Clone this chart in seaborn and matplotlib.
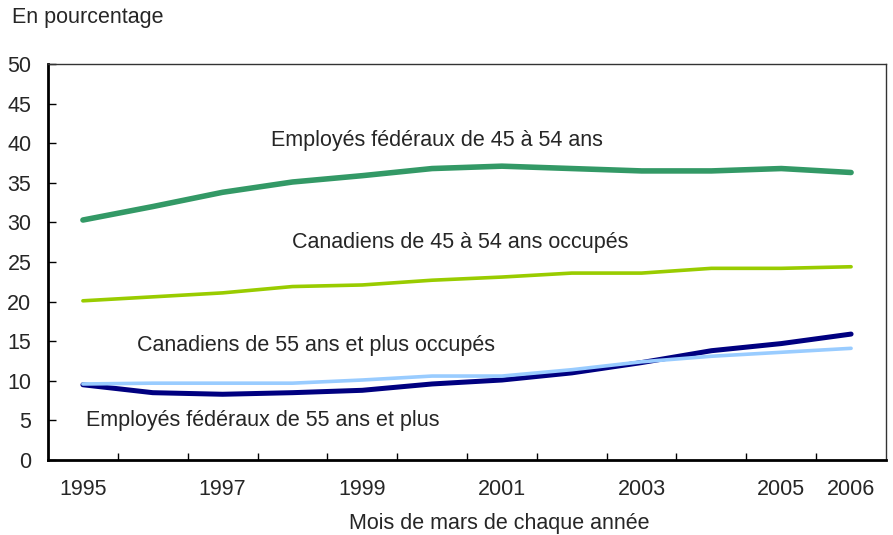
import matplotlib
matplotlib.use("Agg")
import matplotlib.pyplot as plt
import seaborn as sns
import pandas as pd
from matplotlib.ticker import FixedLocator, FixedFormatter

years = [1995, 1996, 1997, 1998, 1999, 2000, 2001, 2002, 2003, 2004, 2005, 2006]
fed_45_54 = [30.3, 32.0, 33.8, 35.1, 35.9, 36.8, 37.1, 36.8, 36.5, 36.5, 36.8, 36.3]
can_45_54 = [20.1, 20.6, 21.1, 21.9, 22.1, 22.7, 23.1, 23.6, 23.6, 24.2, 24.2, 24.4]
can_55 = [9.6, 9.7, 9.7, 9.7, 10.1, 10.6, 10.6, 11.4, 12.4, 13.1, 13.6, 14.1]
fed_55 = [9.5, 8.5, 8.3, 8.5, 8.8, 9.6, 10.1, 11.0, 12.3, 13.8, 14.7, 15.9]
tick_labels = ["1995", "", "1997", "", "1999", "", "2001", "", "2003", "", "2005", "2006"]

sns.set_theme(style="white")
plt.rcParams["font.family"] = ["Liberation Sans", "DejaVu Sans"]

fig = plt.figure(figsize=(8.93, 5.35), dpi=100)
ax = fig.add_axes([48 / 893, 75 / 535, (886 - 48) / 893, (460 - 64) / 535])

idx = list(range(len(years)))
df = pd.DataFrame({"i": idx, "fed45": fed_45_54, "can45": can_45_54,
                   "can55": can_55, "fed55": fed_55})

sns.lineplot(data=df, x="i", y="can45", ax=ax, color="#99CC00", linewidth=2.6,
             solid_capstyle="round")
sns.lineplot(data=df, x="i", y="fed45", ax=ax, color="#339966", linewidth=4.0,
             solid_capstyle="round")
sns.lineplot(data=df, x="i", y="fed55", ax=ax, color="#000080", linewidth=3.6,
             solid_capstyle="round")
sns.lineplot(data=df, x="i", y="can55", ax=ax, color="#99CCFF", linewidth=2.6,
             solid_capstyle="round")

ax.set_xlim(-0.5, len(years) - 0.5)
ax.set_ylim(0, 50)
ax.set_yticks(range(0, 51, 5))
ax.set_xlabel("")
ax.set_ylabel("")

fs = 15.5
ax.xaxis.set_major_locator(FixedLocator(idx))
ax.xaxis.set_major_formatter(FixedFormatter(tick_labels))
ax.xaxis.set_minor_locator(FixedLocator([i + 0.5 for i in idx[:-1]]))
ax.tick_params(axis="x", which="major", length=0, pad=14, labelsize=fs)
ax.tick_params(axis="x", which="minor", direction="in", length=5, width=1, color="black", bottom=True)
ax.tick_params(axis="y", which="major", direction="in", length=6, width=1, color="black",
               left=True, pad=12, labelsize=fs)

for s in ["left", "bottom"]:
    ax.spines[s].set_color("black")
    ax.spines[s].set_linewidth(2)
for s in ["top", "right"]:
    ax.spines[s].set_color("#333333")
    ax.spines[s].set_linewidth(1)

ax.text(2.69, 40.4, "Employés fédéraux de 45 à 54 ans", fontsize=fs, va="center", ha="left")
ax.text(2.99, 27.4, "Canadiens de 45 à 54 ans occupés", fontsize=fs, va="center", ha="left")
ax.text(0.77, 14.5, "Canadiens de 55 ans et plus occupés", fontsize=fs, va="center", ha="left")
ax.text(0.04, 5.05, "Employés fédéraux de 55 ans et plus", fontsize=fs, va="center", ha="left")

fig.text(12 / 893, 1 - 18 / 535, "En pourcentage", fontsize=fs, va="center", ha="left")
fig.text(499 / 893, 1 - 523 / 535, "Mois de mars de chaque année", fontsize=fs,
         va="center", ha="center")

fig.savefig("out.png", dpi=100)
